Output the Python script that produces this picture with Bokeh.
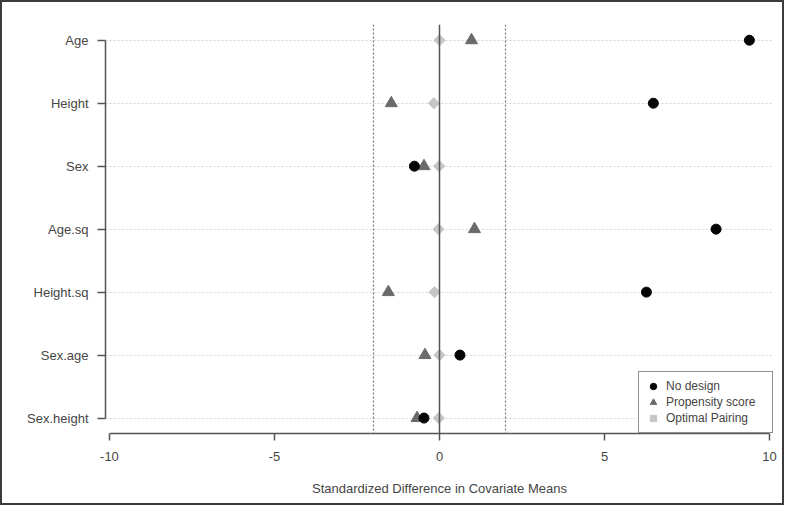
import math
from bokeh.plotting import figure
from bokeh.layouts import column
from bokeh.models import Span, Legend, LegendItem, FixedTicker, ColumnDataSource
from bokeh.embed import file_html
from bokeh.resources import INLINE

covariates = ["Age", "Height", "Sex", "Age.sq", "Height.sq", "Sex.age", "Sex.height"]
no_design = [9.39, 6.48, -0.76, 8.38, 6.27, 0.62, -0.47]
propensity = [0.97, -1.46, -0.47, 1.06, -1.55, -0.44, -0.68]
optimal = [0.0, -0.17, -0.01, -0.03, -0.15, 0.0, -0.02]
x_ticks = [-10, -5, 0, 5, 10]
threshold = 2

n = len(covariates)
ypos = [n - i for i in range(n)]  # Age at top

src = ColumnDataSource(dict(y=ypos, nd=no_design, ps=propensity, op=optimal))

p = figure(width=780, height=501, output_backend="svg", toolbar_location=None,
           x_range=(-10.12, 10.12), y_range=(0.755, 7.25),
           min_border_left=103, min_border_right=9, min_border_top=22, min_border_bottom=70)
p.outline_line_color = None

font = "Liberation Sans"
lab_col = "#454545"

# axes
p.xaxis.ticker = FixedTicker(ticks=x_ticks)
p.xaxis.bounds = (-10, 10)
p.xaxis.major_label_overrides = {t: str(t) for t in x_ticks}
p.yaxis.ticker = FixedTicker(ticks=ypos)
p.yaxis.bounds = (1, n)
p.yaxis.major_label_overrides = {y: c for y, c in zip(ypos, covariates)}
for ax in (p.xaxis, p.yaxis):
    ax.axis_line_color = "#555555"
    ax.axis_line_width = 1.5
    ax.major_tick_line_color = "#555555"
    ax.major_tick_line_width = 1.5
    ax.major_tick_in = 0
    ax.minor_tick_line_color = None
    ax.major_label_text_font = font
    ax.major_label_text_font_size = "13px"
    ax.major_label_text_color = lab_col
p.xaxis.major_tick_out = 7
p.yaxis.major_tick_out = 8
p.xaxis.major_label_standoff = 11
p.yaxis.major_label_standoff = 9
p.xaxis.axis_label = "Standardized Difference in Covariate Means"
p.xaxis.axis_label_text_font = font
p.xaxis.axis_label_text_font_size = "13px"
p.xaxis.axis_label_text_font_style = "normal"
p.xaxis.axis_label_text_color = lab_col
p.xaxis.axis_label_standoff = 17

# grid
p.xgrid.grid_line_color = None
p.ygrid.ticker = FixedTicker(ticks=ypos)
p.ygrid.grid_line_color = "#d4d4d4"
p.ygrid.grid_line_dash = "2 2"
p.ygrid.grid_line_width = 1

# reference lines
p.add_layout(Span(location=0, dimension="height", line_color="#555555", line_width=1.5))
for t in (-threshold, threshold):
    p.add_layout(Span(location=t, dimension="height", line_color="#777777",
                      line_width=1.2, line_dash="2 2"))

r_ps = p.scatter("ps", "y", source=src, marker="triangle", size=12,
                 fill_color="#6a6a6a", line_color="#6a6a6a")
r_nd = p.scatter("nd", "y", source=src, marker="circle", size=10,
                 fill_color="#050505", line_color="#050505")
r_op = p.scatter("op", "y", source=src, marker="square", size=8, angle=math.pi / 4,
                 fill_color="#c6c6c6", line_color="#c6c6c6")

legend = Legend(items=[
    LegendItem(label="No design", renderers=[r_nd]),
    LegendItem(label="Propensity score", renderers=[r_ps]),
    LegendItem(label="Optimal Pairing", renderers=[r_op]),
], location="bottom_right")
legend.margin = 0
legend.padding = 6
legend.spacing = 0
legend.glyph_width = 16
legend.glyph_height = 16
legend.label_height = 16
legend.label_width = 100
legend.label_standoff = 5
legend.label_text_font = font
legend.label_text_font_size = "12px"
legend.label_text_color = lab_col
legend.border_line_color = "#222222"
legend.border_line_width = 1
legend.background_fill_alpha = 1
p.add_layout(legend, "center")

page = column(p, styles={"border": "2px solid #3c3c3c"})

open("out.html", "w").write(file_html(page, INLINE))
